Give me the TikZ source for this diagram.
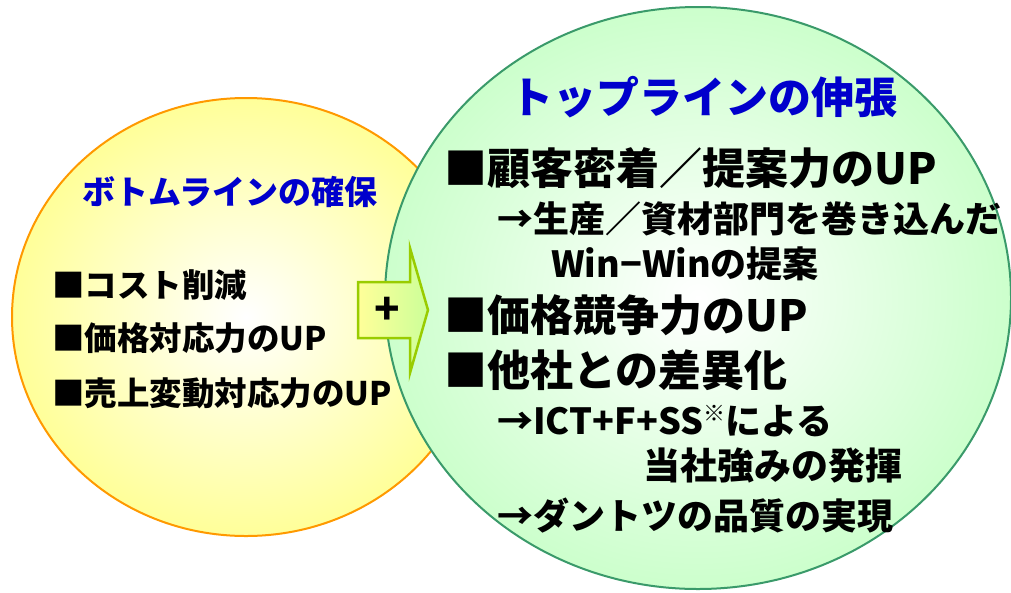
\documentclass[tikz,border=0pt]{standalone}
\usepackage{fontspec}
\newfontfamily\jp{Noto Sans CJK JP}
\definecolor{lyel}{HTML}{FFFF99}
\definecolor{lorange}{HTML}{FF9900}
\definecolor{lgreen}{HTML}{CCFFCC}
\definecolor{dgreen}{HTML}{3A9A6A}
\definecolor{ttlblue}{HTML}{0000CC}
\definecolor{arrfill}{HTML}{CCFF99}
\definecolor{arredge}{HTML}{99CC00}
\tikzset{
  jt/.style={inner sep=0pt, anchor=base west, font=\jp\bfseries\fontsize{#1}{#1}\selectfont},
  ttl/.style={inner sep=0pt, anchor=base, text=ttlblue, font=\jp\bfseries\fontsize{#1}{#1}\selectfont},
}
\begin{document}
\begin{tikzpicture}[x=1pt,y=-1pt]
\useasboundingbox (0,0) rectangle (1011,592);
% left ellipse
\shadedraw[draw=lorange, line width=2pt, inner color=white, outer color=lyel]
  (246,317) ellipse [x radius=234pt, y radius=219pt];
% right ellipse
\shadedraw[draw=dgreen, line width=2pt, inner color=white, outer color=lgreen]
  (698,298) ellipse [x radius=313pt, y radius=291pt];
% block arrow
\shadedraw[draw=arredge, line width=2.5pt, line join=miter, left color=lyel, right color=arrfill]
  (358,282) -- (410,282) -- (410,248) -- (428,310) -- (410,373) -- (410,338) -- (358,338) -- cycle;
\node[inner sep=0pt, font=\jp\bfseries\fontsize{42}{42}\selectfont] (plus) at (387,311) {+};
% left texts
\node[ttl=33] (lt) at (230,204.5) {ボトムラインの確保};
\node[jt=32.5] (l1) at (52,297) {■コスト削減};
\node[jt=32.5] (l2) at (52,350) {■価格対応力のUP};
\node[jt=32.5] (l3) at (52,405) {■売上変動対応力のUP};
% right texts
\node[ttl=43] (rt) at (704,113) {トップラインの伸張};
\node[jt=43] (r1) at (444,184) {■顧客密着／提案力のUP};
\node[jt=36] (r2) at (497,232) {→生産／資材部門を巻き込んだ};
\node[jt=36] (r3) at (551,277) {Win−Winの提案};
\node[jt=43] (r4) at (444,331) {■価格競争力のUP};
\node[jt=43] (r5) at (444,386) {■他社との差異化};
\node[jt=36] (r6) at (497,434) {→ICT+F+SS\raisebox{0.35em}{\fontsize{22}{22}\selectfont ※}による};
\node[jt=37] (r7) at (643,479) {当社強みの発揮};
\node[jt=36] (r8) at (497,529) {→ダントツの品質の実現};
\end{tikzpicture}
\end{document}
